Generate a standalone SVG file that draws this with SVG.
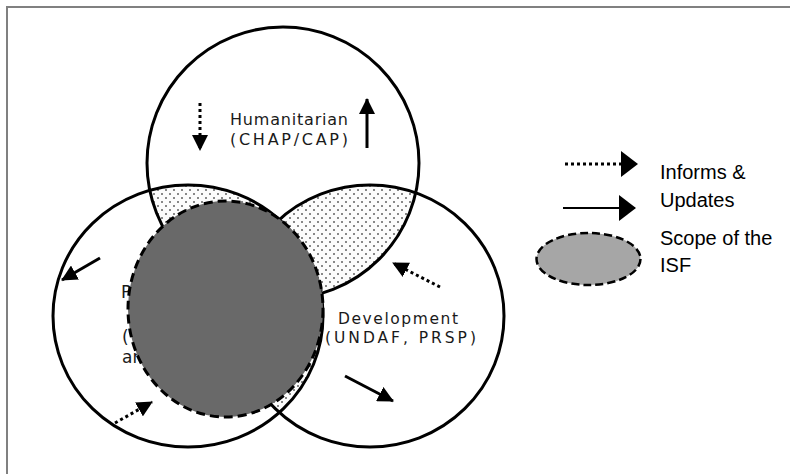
<svg xmlns="http://www.w3.org/2000/svg" width="790" height="474" viewBox="0 0 790 474">
<style>
.circ{fill:none;stroke:#000;stroke-width:3}
.lens{fill:url(#dots)}
.isf{fill:#696969;stroke:#000;stroke-width:3;stroke-dasharray:9 5}
.solid{stroke:#000;stroke-width:3;fill:none}
.dotted{stroke:#000;stroke-width:3;stroke-dasharray:3 3;fill:none}
.lbl{font-family:"DejaVu Sans",sans-serif;font-size:16px;fill:#1a1a1a}
.leg{font-family:"Liberation Sans",Arial,sans-serif;font-size:20px;fill:#000}
</style>
<defs>
<pattern id="dots" width="8" height="8" patternUnits="userSpaceOnUse">
<rect width="8" height="8" fill="#fcfcfc"/>
<rect x="1" y="1" width="2" height="2" fill="#888"/>
<rect x="5" y="5" width="2" height="2" fill="#888"/>
</pattern>
<clipPath id="clipLeft"><ellipse cx="188" cy="316" rx="135" ry="131"/></clipPath>
<clipPath id="clipRight"><ellipse cx="370" cy="316" rx="134" ry="131"/></clipPath>
<marker id="head" markerUnits="userSpaceOnUse" markerWidth="16" markerHeight="16" refX="15" refY="8" orient="auto">
<path d="M0,0 L16,8 L0,16 z" fill="#000"/>
</marker>
<marker id="headL" markerUnits="userSpaceOnUse" markerWidth="18" markerHeight="26" refX="16" refY="13" orient="auto">
<path d="M0,0 L17,13 L0,26 z" fill="#000"/>
</marker>
</defs>
<rect width="790" height="474" fill="#fff"/>
<path d="M7,474 V7 H790" fill="none" stroke="#808080" stroke-width="2"/>

<g id="lenses">
<circle class="lens" cx="283" cy="163" r="136" clip-path="url(#clipLeft)"/>
<circle class="lens" cx="283" cy="163" r="136" clip-path="url(#clipRight)"/>
<ellipse class="lens" cx="370" cy="316" rx="134" ry="131" clip-path="url(#clipLeft)"/>
</g>

<g id="policy">
<ellipse class="circ" cx="188" cy="316" rx="135" ry="131"/>
<text class="lbl" x="121" y="298" style="font-size:17px">P</text>
<text class="lbl" x="122" y="343" style="font-size:17px">(</text>
<text class="lbl" x="122" y="363" style="font-size:17px">an</text>
</g>
<g id="humanitarian">
<circle class="circ" cx="283" cy="163" r="136"/>
<text class="lbl" x="230" y="125" textLength="118" lengthAdjust="spacing">Humanitarian</text>
<text class="lbl" x="230" y="145" textLength="118" lengthAdjust="spacing">(CHAP/CAP)</text>
</g>
<g id="development">
<ellipse class="circ" cx="370" cy="316" rx="134" ry="131"/>
<text class="lbl" x="338" y="324" textLength="120" lengthAdjust="spacing" style="font-size:15.5px">Development</text>
<text class="lbl" x="325" y="343" textLength="151" lengthAdjust="spacing" style="font-size:15.5px">(UNDAF, PRSP)</text>
</g>

<g id="isf">
<ellipse class="isf" cx="225.5" cy="309" rx="97.5" ry="108"/>
</g>

<g id="connectors">
<line class="dotted" x1="200" y1="103" x2="200" y2="150" marker-end="url(#head)"/>
<line class="solid" x1="367" y1="148" x2="367" y2="99" marker-end="url(#head)"/>
<line class="solid" x1="100" y1="258" x2="62" y2="280" marker-end="url(#head)"/>
<line class="dotted" x1="115" y1="423" x2="152" y2="402" marker-end="url(#head)"/>
<line class="dotted" x1="440" y1="287" x2="393" y2="263" marker-end="url(#head)"/>
<line class="solid" x1="345" y1="376" x2="393" y2="401" marker-end="url(#head)"/>
</g>

<g id="legend">
<line class="dotted" x1="565" y1="164" x2="637" y2="164" marker-end="url(#headL)"/>
<line class="solid" x1="563" y1="208" x2="635" y2="208" style="stroke-width:2" marker-end="url(#headL)"/>
<ellipse cx="588.5" cy="259" rx="52" ry="26" fill="#a6a6a6" stroke="#000" stroke-width="2.5" stroke-dasharray="8 4"/>
<text class="leg" x="660" y="179">Informs &amp;</text>
<text class="leg" x="660" y="206.5">Updates</text>
<text class="leg" x="660" y="245">Scope of the</text>
<text class="leg" x="660" y="272">ISF</text>
</g>
</svg>
